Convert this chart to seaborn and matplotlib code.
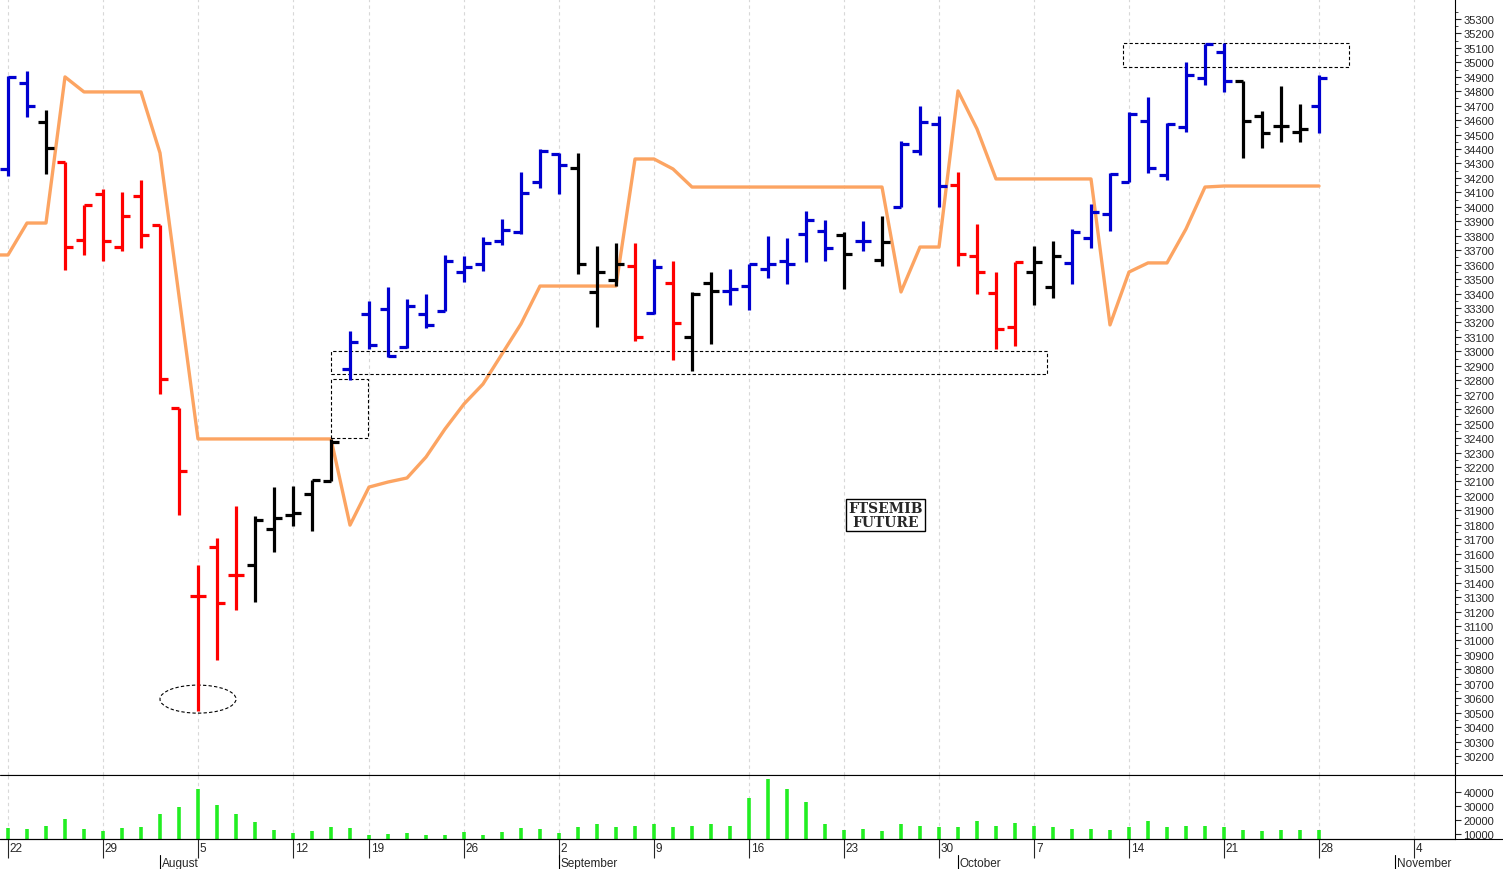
import numpy as np
import pandas as pd
import matplotlib
matplotlib.use("Agg")
import matplotlib.pyplot as plt
import matplotlib.transforms as mtransforms
from matplotlib.patches import Rectangle, Ellipse
import seaborn as sns

# --- data ---
opens = [34260, 34860, 34590, 34310, 33770, 34090, 33720, 34075, 33875, 32610,
         31310, 31645, 31450, 31520, 31770, 31870, 32010, 32100, 32880, 33260,
         33295, 33030, 33260, 33280, 33550, 33605, 33765, 33825, 34170, 34365,
         34270, 33410, 33495, 33590, 33265, 33475, 33100, 33475, 33420, 33450,
         33570, 33625, 33810, 33835, 33805, 33765, 33630, 34000, 34385, 34575,
         34150, 33660, 33405, 33170, 33550, 33445, 33610, 33785, 33950, 34170,
         34595, 34220, 34555, 34890, 35070, 34870, 34630, 34560, 34520, 34700]
highs = [34905, 34940, 34670, 34310, 34010, 34120, 34100, 34185, 33875, 32610,
         31520, 31710, 31930, 31860, 32060, 32070, 32110, 32395, 33140, 33350,
         33445, 33360, 33400, 33665, 33660, 33790, 33915, 34240, 34400, 34375,
         34375, 33730, 33750, 33750, 33640, 33625, 33410, 33550, 33570, 33605,
         33800, 33785, 33970, 33910, 33825, 33900, 33940, 34455, 34700, 34630,
         34240, 33880, 33550, 33620, 33730, 33765, 33845, 34020, 34235, 34655,
         34760, 34580, 35000, 35130, 35135, 34870, 34665, 34835, 34710, 34910]
lows = [34210, 34620, 34230, 33560, 33670, 33625, 33695, 33715, 32705, 31870,
        30510, 30865, 31210, 31265, 31610, 31790, 31760, 32100, 32800, 33015,
        32960, 33025, 33160, 33280, 33480, 33555, 33735, 33810, 34130, 34090,
        33535, 33170, 33450, 33070, 33260, 32940, 32865, 33050, 33320, 33285,
        33510, 33465, 33620, 33625, 33430, 33695, 33590, 34000, 34360, 34000,
        33590, 33395, 33015, 33035, 33320, 33370, 33465, 33715, 33835, 34170,
        34235, 34185, 34520, 34845, 34795, 34340, 34405, 34450, 34450, 34510]
closes = [34900, 34700, 34410, 33720, 34010, 33765, 33935, 33805, 32810, 32170,
          31310, 31260, 31450, 31835, 31845, 31880, 32110, 32370, 33065, 33045,
          32970, 33315, 33185, 33625, 33585, 33750, 33840, 34095, 34385, 34290,
          33605, 33550, 33605, 33100, 33585, 33195, 33395, 33420, 33430, 33605,
          33605, 33605, 33910, 33715, 33675, 33765, 33755, 34435, 34585, 34145,
          33675, 33550, 33155, 33620, 33620, 33660, 33825, 33965, 34225, 34645,
          34270, 34575, 34910, 35125, 34870, 34595, 34510, 34560, 34540, 34890]
bar_colors = list("bbkrrrrrrrrrrkkkkkbbbbbbbbbbbbkkkrbrkkbbbbbbkbkbbbrrrrkkbbbbbbbbbkkkkb")
trend = [33667, 33888, 33888, 34899, 34795, 34795, 34795, 34795, 34373, 33383,
         32394, 32394, 32394, 32394, 32394, 32394, 32394, 32394, 31798, 32061,
         32096, 32124, 32269, 32463, 32636, 32774, 32982, 33190, 33452, 33452,
         33452, 33452, 33452, 34331, 34331, 34262, 34137, 34137, 34137, 34137,
         34137, 34137, 34137, 34137, 34137, 34137, 34137, 33411, 33722, 33722,
         34802, 34539, 34193, 34193, 34193, 34193, 34193, 34193, 33183, 33549,
         33612, 33612, 33847, 34137, 34144, 34144, 34144, 34144, 34144, 34144]
volume = [14000, 13500, 16000, 21000, 13500, 12000, 14000, 15000, 24000, 29000,
          42000, 31000, 24000, 18500, 13000, 11000, 12000, 15000, 14000, 9500,
          10000, 11000, 9000, 9500, 11500, 9500, 11500, 14000, 13500, 11000,
          15000, 17000, 15000, 16000, 17000, 15000, 16000, 17000, 16000, 36000,
          49000, 42000, 33000, 17000, 13000, 13500, 12000, 17000, 16000, 15000,
          15000, 19000, 16000, 18000, 16000, 15000, 13500, 13500, 13000, 15000,
          19000, 15000, 16000, 15500, 15000, 13000, 12000, 13000, 13000, 13000]
week_idx = [0, 5, 10, 15, 19, 24, 29, 34, 39, 44, 49, 54, 59, 64, 69, 74]
week_labels = ["22", "29", "5", "12", "19", "26", "2", "9", "16", "23", "30",
               "7", "14", "21", "28", "4"]
month_idx = [8, 29, 50, 73]
month_labels = ["August", "September", "October", "November"]

df = pd.DataFrame({"i": np.arange(len(opens)), "o": opens, "h": highs,
                   "l": lows, "c": closes, "col": bar_colors,
                   "trend": trend, "vol": volume})
cmap = {"b": "#0000d0", "r": "#ff0000", "k": "#000000"}

sns.set_style("white")
plt.rcParams["font.family"] = ["Liberation Sans", "DejaVu Sans"]

fig = plt.figure(figsize=(15.03, 8.70), dpi=100)
ax = fig.add_axes([0, 94 / 870, 1455 / 1503, 776 / 870])
axv = fig.add_axes([0, 30 / 870, 1455 / 1503, 64 / 870], sharex=ax)

xlim = (-8 / 19, (1455 - 8) / 19)
for a in (ax, axv):
    for w in week_idx:
        a.axvline(w, color="#d8d8d8", lw=0.8, ls=(0, (3, 3)), zorder=0)

# OHLC bars
tk = 0.42
for _, r in df.iterrows():
    c = cmap[r["col"]]
    ax.vlines(r["i"], r["l"], r["h"], color=c, lw=2.3)
    ax.hlines(r["o"], r["i"] - tk, r["i"], color=c, lw=2.3)
    ax.hlines(r["c"], r["i"], r["i"] + tk, color=c, lw=2.3)

# orange trend line
ax.plot([xlim[0]] + list(df["i"]), [trend[0]] + trend, color="#fca462", lw=2.4, zorder=1)

# annotations
dash = dict(fill=False, ls=(0, (3, 2)), lw=0.8, ec="black")
ax.add_patch(Rectangle((17.0, 32840), 37.7, 160, **dash))
ax.add_patch(Rectangle((17.0, 32400), 1.95, 410, **dash))
ax.add_patch(Rectangle((58.7, 34968), 11.9, 166, **dash))
ax.add_patch(Ellipse((10, 30594), 4.0, 194, **dash))
ax.text(46.2, 31868, "FTSEMIB\nFUTURE", ha="center", va="center", fontsize=10,
        fontweight="bold", family="DejaVu Serif", linespacing=0.95,
        bbox=dict(boxstyle="square,pad=0.15", fc="white", ec="black", lw=1))

ax.set_ylim(30069, 35438)
ax.set_xlim(*xlim)

# volume
axv.vlines(df["i"], 0, df["vol"], color="#22ee22", lw=2.6)
axv.set_ylim(6429, 52143)

# right-hand axes
for a, ticks in ((ax, np.arange(30200, 35301, 100)), (axv, [10000, 20000, 30000, 40000])):
    a.yaxis.tick_right()
    a.set_yticks(ticks)
    a.set_yticklabels([str(t) for t in ticks], fontsize=8)
    a.tick_params(axis="y", length=4, width=0.8, pad=2, direction="out")
    for s in a.spines.values():
        s.set_color("black")
        s.set_linewidth(0.8)
    a.spines["top"].set_visible(False)
    a.spines["left"].set_visible(False)
ax.set_yticks(np.arange(30150, 35351, 100), minor=True)
ax.tick_params(axis="y", which="minor", length=2, right=True)
ax.tick_params(axis="x", bottom=False, labelbottom=False)

# date labels below volume
axv.set_xticks(week_idx)
axv.set_xticklabels([])
axv.tick_params(axis="x", length=14, width=0.8, direction="out", bottom=True)
trans = mtransforms.blended_transform_factory(axv.transData, fig.transFigure)
for w, lab in zip(week_idx, week_labels):
    axv.text(w + 0.1, (870 - 849) / 870, lab, transform=trans, fontsize=8.5,
             ha="left", va="center")
for m, lab in zip(month_idx, month_labels):
    axv.text(m + 0.1, (870 - 864) / 870, lab, transform=trans, fontsize=8.5,
             ha="left", va="center")
    axv.plot([m, m], [(870 - 856) / 870, 0], transform=trans, color="black",
             lw=0.8, clip_on=False)
fig.add_artist(plt.Line2D([0, 1], [30 / 870, 30 / 870], color="black", lw=0.8))
fig.add_artist(plt.Line2D([0, 1], [94 / 870, 94 / 870], color="black", lw=0.8))

fig.savefig("out.png", dpi=100)
